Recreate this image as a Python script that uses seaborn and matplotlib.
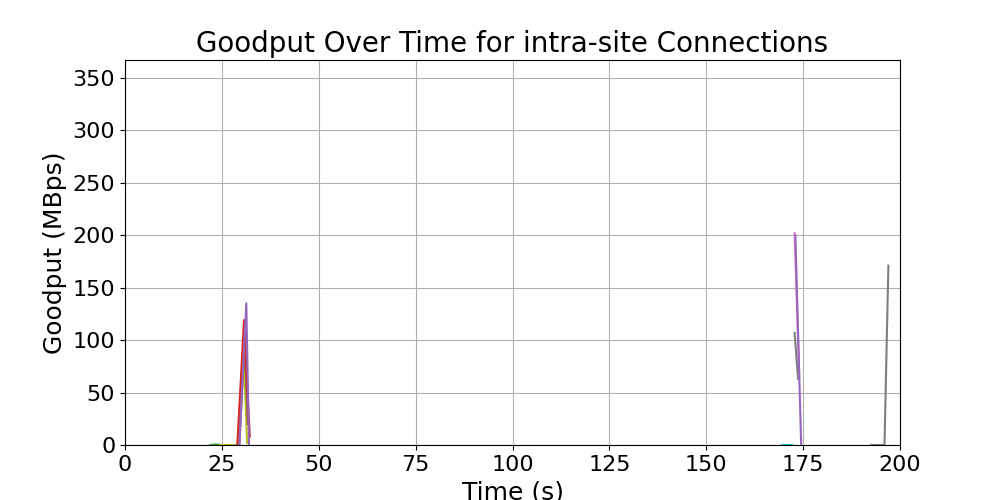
import matplotlib
matplotlib.use("Agg")
import matplotlib.pyplot as plt
import seaborn as sns
import pandas as pd

# one series per connection: time (s), goodput (MBps)
conn_green_t = [22.0, 23.5, 25.0]
conn_green_g = [0.0, 0.5, 0.0]
conn_olive_t = [24.5, 29.0, 30.6, 31.5]
conn_olive_g = [0.0, 0.0, 95.0, 2.0]
conn_red_t = [29.0, 30.7, 32.2]
conn_red_g = [0.0, 119.0, 8.0]
conn_purple_t = [29.5, 31.3, 32.0]
conn_purple_g = [0.0, 135.0, 0.0]
conn_brown_t = [29.5, 30.9, 31.7]
conn_brown_g = [0.0, 100.0, 20.0]
conn_cyan_t = [169.5, 172.0]
conn_cyan_g = [0.0, 0.0]
conn_pink_t = [172.8, 174.0]
conn_pink_g = [202.0, 65.0]
conn_purple2_t = [173.0, 174.5]
conn_purple2_g = [200.0, 0.0]
conn_gray_t = [172.8, 173.7]
conn_gray_g = [107.0, 63.0]
conn_gray2_t = [192.5, 196.0, 197.0]
conn_gray2_g = [0.0, 0.0, 171.0]

series = [
    (conn_green_t, conn_green_g, "tab:green"),
    (conn_olive_t, conn_olive_g, "tab:olive"),
    (conn_brown_t, conn_brown_g, "tab:brown"),
    (conn_red_t, conn_red_g, "tab:red"),
    (conn_purple_t, conn_purple_g, "tab:purple"),
    (conn_cyan_t, conn_cyan_g, "tab:cyan"),
    (conn_gray_t, conn_gray_g, "tab:gray"),
    (conn_pink_t, conn_pink_g, "tab:pink"),
    (conn_purple2_t, conn_purple2_g, "tab:purple"),
    (conn_gray2_t, conn_gray2_g, "tab:gray"),
]

fig, ax = plt.subplots(figsize=(10, 5), dpi=100)
for t, g, c in series:
    df = pd.DataFrame({"t": t, "g": g})
    sns.lineplot(data=df, x="t", y="g", color=c, ax=ax, sort=False, linewidth=1.5)

ax.set_xlim(0, 200)
ax.set_ylim(0, 367)
ax.grid(True, color="#b0b0b0")
ax.set_axisbelow(True)
ax.set_title("Goodput Over Time for intra-site Connections", fontsize=20)
ax.set_xlabel("Time (s)", fontsize=18)
ax.set_ylabel("Goodput (MBps)", fontsize=18)
ax.tick_params(labelsize=16)
fig.subplots_adjust(left=0.125, right=0.9, top=0.88, bottom=0.11)
fig.savefig("out.png")
